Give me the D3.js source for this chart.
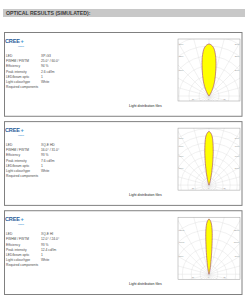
<!DOCTYPE html>
<html>
<head>
<meta charset="utf-8">
<script src="https://cdn.jsdelivr.net/npm/d3@7"></script>
<style>
  html, body { margin: 0; padding: 0; background: #fff; }
  svg { display: block; font-family: "Liberation Sans", Arial, sans-serif; }
</style>
</head>
<body>
<svg id="chart" width="248" height="300"></svg>
<script>
// Optic datasheet data, one entry per LED
const ledNames = ["XP-G3", "XQ-E HD", "XQ-E HI"];
const fwhmFwtm = ["25.0° / 60.0°", "16.0° / 31.0°", "12.0° / 24.0°"];
const efficiency = ["94 %", "93 %", "93 %"];
const peakIntensity = ["2.6 cd/lm", "7.6 cd/lm", "12.4 cd/lm"];
const ledsPerOptic = ["1", "1", "1"];
const lightColour = ["White", "White", "White"];
const requiredParts = ["", "", ""];
const rowLabels = ["LED", "FWHM / FWTM", "Efficiency", "Peak intensity",
  "LED/beam optic", "Light colour/type", "Required components"];

// polar intensity (cd/klm), one half of the symmetric beam
const beamAngles = [
  [0, 5, 10, 15, 20, 25, 30, 35, 40, 45],
  [0, 3, 6, 9, 12, 15, 18, 21, 25, 30],
  [0, 2, 4, 6, 8, 10, 12, 14, 17, 20],
];
const beamIntensity = [
  [2600, 2450, 1950, 1300, 850, 520, 260, 110, 30, 0],
  [7600, 7150, 5600, 3500, 1800, 900, 500, 230, 70, 0],
  [12400, 11800, 10000, 6400, 3600, 2000, 1240, 650, 200, 0],
];
const gridMax = [3000, 8500, 13500];

const width = 248, height = 300;
const svg = d3.select("#chart");

// header bar
svg.append("rect")
  .attr("x", 3).attr("y", 9).attr("width", 242).attr("height", 8)
  .attr("fill", "#c8c8c8");
svg.append("text")
  .attr("x", 6).attr("y", 15)
  .attr("font-size", 5.2).attr("font-weight", "bold").attr("fill", "#3a3a3a")
  .text("OPTICAL RESULTS (SIMULATED):");

const panelY = d3.scaleBand()
  .domain(d3.range(ledNames.length))
  .range([32, 294])
  .paddingInner(0.06);

const rowsFor = (i) => [ledNames[i], fwhmFwtm[i], efficiency[i], peakIntensity[i],
  ledsPerOptic[i], lightColour[i], requiredParts[i]];

ledNames.forEach((name, i) => {
  const top = panelY(i);
  const h = panelY.bandwidth();
  const g = svg.append("g").attr("transform", `translate(0,${top})`);

  g.append("rect")
    .attr("x", 4.5).attr("y", 0.5).attr("width", 237.5).attr("height", h)
    .attr("fill", "#fff").attr("stroke", "#808080").attr("stroke-width", 1);

  // CREE logo
  const logo = g.append("g").attr("transform", "translate(5,11)");
  logo.append("text")
    .attr("font-size", 5.6).attr("font-weight", "bold").attr("fill", "#2a5d9a")
    .attr("letter-spacing", -0.2)
    .text("CREE");
  logo.append("text")
    .attr("x", 15.5).attr("font-size", 5.6).attr("font-weight", "bold").attr("fill", "#3a8fd0")
    .text("+");
  logo.append("text")
    .attr("x", 13).attr("y", 4).attr("font-size", 2.4).attr("fill", "#3a8fd0")
    .text("LEDs");

  // spec rows
  const rowY = d3.scaleLinear().domain([0, 6]).range([25, 56]);
  const vals = rowsFor(i);
  rowLabels.forEach((lab, k) => {
    g.append("text")
      .attr("x", 6).attr("y", rowY(k))
      .attr("font-size", 3.3).attr("fill", "#4a4a4a")
      .text(lab);
    if (vals[k]) {
      g.append("text")
        .attr("x", 41).attr("y", rowY(k))
        .attr("font-size", 3.3).attr("fill", "#4a4a4a")
        .text(vals[k]);
    }
  });

  // polar plot
  const bx = 178, by = 7, bw = 62, bh = 62;
  const cx = bx + bw / 2, cy = by + bh - 5;
  const r = d3.scaleLinear().domain([0, gridMax[i]]).range([0, 60]);
  const clipId = `clip${i}`;
  g.append("clipPath").attr("id", clipId)
    .append("rect").attr("x", bx).attr("y", by).attr("width", bw).attr("height", bh);

  const plot = g.append("g");
  plot.append("rect")
    .attr("x", bx).attr("y", by).attr("width", bw).attr("height", bh)
    .attr("fill", "#fff");

  const grid = plot.append("g").attr("clip-path", `url(#${clipId})`);
  const ticks = r.ticks(8).filter((t) => t > 0);
  grid.selectAll("circle")
    .data(ticks.concat([gridMax[i] * 1.13, gridMax[i] * 1.26]))
    .join("circle")
    .attr("cx", cx).attr("cy", cy).attr("r", (d) => r(d))
    .attr("fill", "none").attr("stroke", "#dcdcdc").attr("stroke-width", 0.4);
  grid.selectAll("line")
    .data(d3.range(-180, 180, 15))
    .join("line")
    .attr("x1", cx).attr("y1", cy)
    .attr("x2", (d) => cx + 90 * Math.sin(d * Math.PI / 180))
    .attr("y2", (d) => cy - 90 * Math.cos(d * Math.PI / 180))
    .attr("stroke", "#dcdcdc").attr("stroke-width", 0.4);

  // beam lobe
  const ang = beamAngles[i], inten = beamIntensity[i];
  const pts = [];
  for (let k = ang.length - 1; k > 0; k--) pts.push([-ang[k], inten[k]]);
  for (let k = 0; k < ang.length; k++) pts.push([ang[k], inten[k]]);
  const lobe = d3.lineRadial()
    .angle((d) => d[0] * Math.PI / 180)
    .radius((d) => r(d[1]))
    .curve(d3.curveCatmullRom.alpha(0.5));
  grid.append("path")
    .attr("transform", `translate(${cx},${cy})`)
    .attr("d", lobe(pts))
    .attr("fill", "#ffff00").attr("stroke", "#b0506a").attr("stroke-width", 0.6);
  grid.append("path")
    .attr("transform", `translate(${cx},${cy})`)
    .attr("d", lobe(pts))
    .attr("fill", "none").attr("stroke", "#8060b0").attr("stroke-width", 0.25)
    .attr("stroke-dasharray", "0.8 0.8");

  // axis tick labels (tiny)
  const lab = plot.append("g").attr("font-size", 1.9).attr("fill", "#888");
  ticks.filter((t) => r(t) > bw / 2 + 1).forEach((t) => {
    const yy = cy - Math.sqrt(r(t) ** 2 - (bw / 2) ** 2);
    if (yy < by + 2) return;
    lab.append("text").attr("x", bx + 1).attr("y", yy + 0.6).text(t);
    lab.append("text").attr("x", bx + bw - 1).attr("y", yy + 0.6)
      .attr("text-anchor", "end").text(t);
  });
  [-30, 0, 30].forEach((a) => {
    lab.append("text")
      .attr("x", cx + a * 16 / 30).attr("y", by + bh - 1)
      .attr("text-anchor", "middle").text(a + "°");
  });

  plot.append("rect")
    .attr("x", bx).attr("y", by).attr("width", bw).attr("height", bh)
    .attr("fill", "none").attr("stroke", "#9a9a9a").attr("stroke-width", 0.5);

  g.append("text")
    .attr("x", 129).attr("y", by + bh + 5.5)
    .attr("font-size", 3.5).attr("fill", "#222")
    .text("Light distribution files");
});
</script>
</body>
</html>
